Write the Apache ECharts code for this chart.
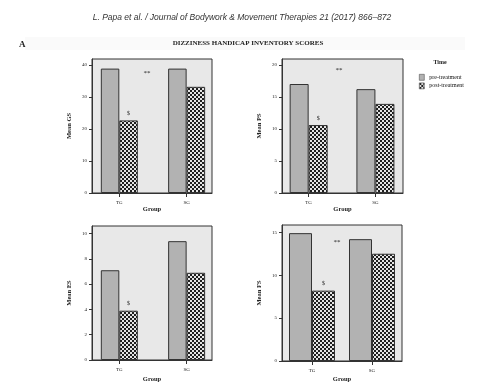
<!DOCTYPE html>
<html><head><meta charset="utf-8">
<script src="https://cdn.jsdelivr.net/npm/echarts@6/dist/echarts.min.js"></script>
<style>html,body{margin:0;padding:0;background:#fff}#c{width:484px;height:384px}</style>
</head><body><div id="c"></div>
<script>
const categories = ['TG', 'SG'];
const seriesNames = ['pre-treatment', 'post-treatment'];
const gsPre = [38.9, 38.9], gsPost = [22.7, 33.2];
const psPre = [17.0, 16.2], psPost = [10.6, 13.9];
const esPre = [7.1, 9.4],  esPost = [3.9, 6.9];
const fsPre = [14.9, 14.2], fsPost = [8.2, 12.5];
const gsTicks = [0, 10, 20, 30, 40];
const psTicks = [0, 5, 10, 15, 20];
const esTicks = [0, 2, 4, 6, 8, 10];
const fsTicks = [0, 5, 10, 15];
const axisNames = ['Mean GS', 'Mean PS', 'Mean ES', 'Mean FS'];
const axisMax = [41.9, 20.9, 10.6, 15.85];
const sigLabel = '$';
const starLabel = '**';

// checker pattern
const pc = document.createElement('canvas');
pc.width = 4; pc.height = 4;
const pctx = pc.getContext('2d');
pctx.fillStyle = '#e4e4e4'; pctx.fillRect(0, 0, 4, 4);
pctx.fillStyle = '#1e1e1e'; pctx.fillRect(0, 0, 2, 2); pctx.fillRect(2, 2, 2, 2);
const checker = { image: pc, repeat: 'repeat' };

const serif = 'Liberation Serif';
const preColor = '#b2b2b2';
const grids = [
  { left: 92, top: 59, width: 120, height: 134 },
  { left: 282, top: 59, width: 121, height: 134 },
  { left: 92, top: 226, width: 120, height: 135 },
  { left: 282, top: 225, width: 120, height: 136 }
];
// x extent of each panel (categories placed at positions 1 and 2)
const xExt = [[0.594, 2.377], [0.601, 2.413], [0.594, 2.377], [0.5, 2.5]];
const catPos = [1, 2];
const pres = [gsPre, psPre, esPre, fsPre];
const posts = [gsPost, psPost, esPost, fsPost];
const ticks = [gsTicks, psTicks, esTicks, fsTicks];
const barW = [18.5, 19, 18.5, 23];
const xNameGap = [13, 13, 16, 15];

const option = {
  animation: false,
  backgroundColor: '#fff',
  grid: grids.map(g => Object.assign({ show: true, backgroundColor: '#e8e8e8', borderColor: '#333', borderWidth: 1, containLabel: false }, g)),
  legend: {
    data: [
      { name: seriesNames[0], itemStyle: { color: preColor, borderColor: '#555', borderWidth: 0.6 } },
      { name: seriesNames[1], itemStyle: { color: checker, borderColor: '#555', borderWidth: 0.6 } }
    ],
    orient: 'vertical', left: 414, top: 69, itemWidth: 5, itemHeight: 6, itemGap: 2,
    icon: 'rect',
    textStyle: { fontFamily: serif, fontSize: 6, color: '#111' }
  },
  xAxis: grids.map((g, i) => ({
    type: 'value', gridIndex: i, min: xExt[i][0], max: xExt[i][1],
    name: 'Group', nameLocation: 'middle', nameGap: xNameGap[i],
    nameTextStyle: { fontFamily: serif, fontWeight: 'bold', fontSize: 6.5, color: '#222' },
    splitLine: { show: false },
    axisLine: { show: true, lineStyle: { color: '#333', width: 1 } },
    axisTick: { show: true, length: 4, customValues: catPos, lineStyle: { color: '#333' } },
    axisLabel: { fontFamily: serif, fontSize: 5, color: '#222', margin: 7, customValues: catPos,
      formatter: v => categories[catPos.indexOf(Math.round(v))] || '' }
  })),
  yAxis: grids.map((g, i) => ({
    type: 'value', gridIndex: i, min: 0, max: axisMax[i],
    name: axisNames[i], nameLocation: 'middle', nameGap: 19, nameRotate: 90,
    nameTextStyle: { fontFamily: serif, fontWeight: 'bold', fontSize: 6.5, color: '#222' },
    splitLine: { show: false },
    axisLine: { show: true, lineStyle: { color: '#333' } },
    axisTick: { show: true, length: 3, customValues: ticks[i], lineStyle: { color: '#333' } },
    axisLabel: { fontFamily: serif, fontSize: 5, color: '#222', margin: 5, customValues: ticks[i] }
  })),
  series: [],
  graphic: [
    { type: 'text', left: 'center', top: 13, style: { text: 'L. Papa et al. / Journal of Bodywork & Movement Therapies 21 (2017) 866–872', fontFamily: 'Liberation Sans', fontStyle: 'italic', fontSize: 8.5, fill: '#333' } },
    { type: 'rect', shape: { x: 25, y: 37, width: 440, height: 13 }, style: { fill: '#fafafa' }, z: -1 },
    { type: 'text', left: 19, top: 40, style: { text: 'A', fontFamily: serif, fontWeight: 'bold', fontSize: 9, fill: '#222' } },
    { type: 'text', x: 248, y: 43, style: { text: 'DIZZINESS HANDICAP INVENTORY SCORES', fontFamily: serif, fontWeight: 'bold', fontSize: 7, fill: '#222', align: 'center', verticalAlign: 'middle' } },
    { type: 'text', x: 440, y: 62, style: { text: 'Time', fontFamily: serif, fontWeight: 'bold', fontSize: 6, fill: '#222', align: 'center', verticalAlign: 'middle' } },
    { type: 'text', x: 147, y: 73, style: { text: starLabel, fontFamily: serif, fontSize: 7, fill: '#222', align: 'center', verticalAlign: 'middle' } },
    { type: 'text', x: 339, y: 70, style: { text: starLabel, fontFamily: serif, fontSize: 7, fill: '#222', align: 'center', verticalAlign: 'middle' } },
    { type: 'text', x: 337, y: 242, style: { text: starLabel, fontFamily: serif, fontSize: 7, fill: '#222', align: 'center', verticalAlign: 'middle' } }
  ]
};

for (let i = 0; i < 4; i++) {
  option.series.push({
    name: seriesNames[0], type: 'bar', xAxisIndex: i, yAxisIndex: i,
    data: pres[i].map((v, k) => [catPos[k], v]),
    barWidth: barW[i], barGap: '0%',
    itemStyle: { color: preColor, borderColor: '#333', borderWidth: 1 }
  });
  option.series.push({
    name: seriesNames[1], type: 'bar', xAxisIndex: i, yAxisIndex: i,
    data: posts[i].map((v, k) => k === 0 ? { value: [catPos[k], v], label: { show: true, position: 'top', distance: 4, formatter: sigLabel, fontFamily: serif, fontSize: 6, color: '#222' } } : [catPos[k], v]),
    barWidth: barW[i], barGap: '0%',
    itemStyle: { color: checker, borderColor: '#333', borderWidth: 1 }
  });
}

const chart = echarts.init(document.getElementById('c'), null, { renderer: 'canvas' });
chart.setOption(option);
</script>
</body></html>
